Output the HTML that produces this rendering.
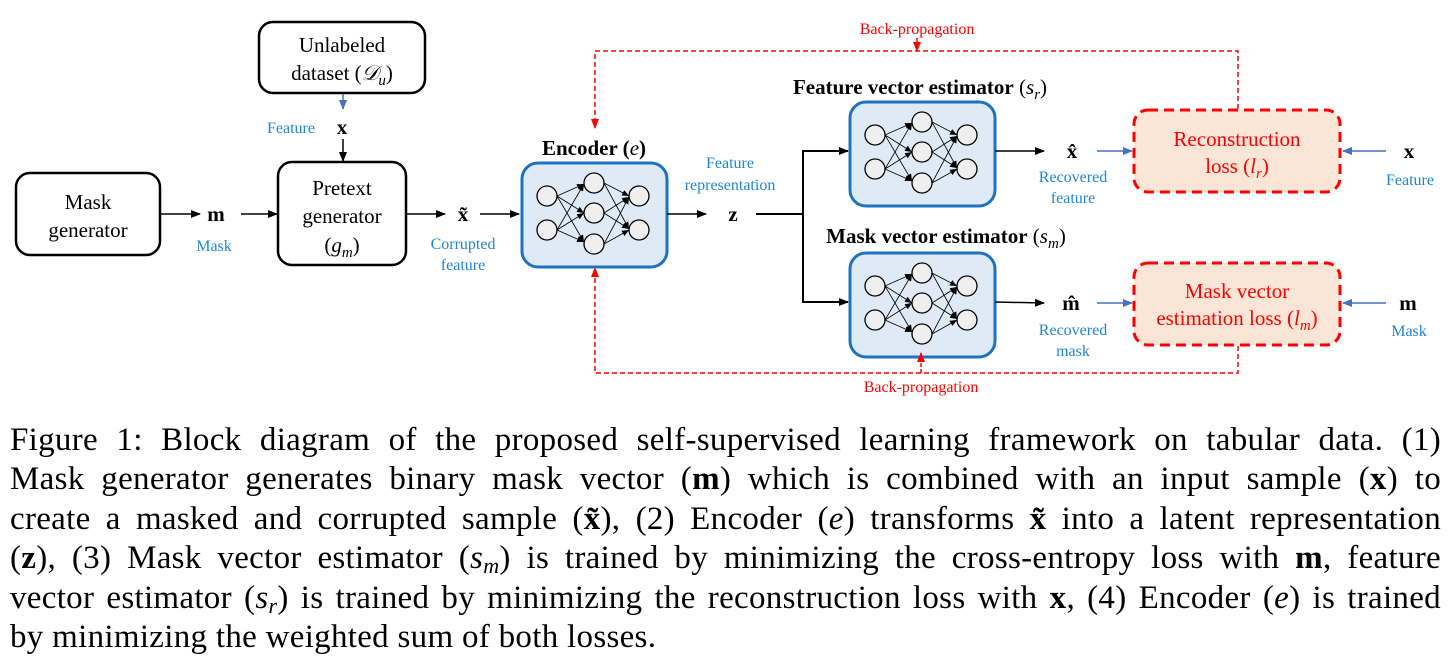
<!DOCTYPE html>
<html><head><meta charset="utf-8"><style>
body{margin:0;width:1455px;height:671px;background:#fff;overflow:hidden;position:relative;font-family:"Liberation Serif",serif}
svg{position:absolute;left:0;top:0}
.cap{position:absolute;left:10px;top:421px;width:1431px;font-size:33px;color:#000;font-family:"Liberation Serif",serif;letter-spacing:0.3px}
.cap div{height:39.4px;line-height:39.4px;white-space:nowrap;text-align:justify;text-align-last:justify}
.cap sub{font-size:22px;line-height:0;vertical-align:-5px}
</style></head><body>
<svg width="1455" height="420" viewBox="0 0 1455 420" font-family="Liberation Serif, serif">
<defs>
<marker id="ak" markerWidth="10" markerHeight="8" refX="9" refY="4" orient="auto" markerUnits="userSpaceOnUse"><path d="M0,0 L10,4 L0,8z" fill="#000"/></marker>
<marker id="ab" markerWidth="10" markerHeight="8" refX="9" refY="4" orient="auto" markerUnits="userSpaceOnUse"><path d="M0,0 L10,4 L0,8z" fill="#4472c4"/></marker>
<marker id="ar" markerWidth="10" markerHeight="8" refX="9" refY="4" orient="auto" markerUnits="userSpaceOnUse"><path d="M0,0 L10,4 L0,8z" fill="#f00"/></marker>
<marker id="as" markerWidth="7" markerHeight="6" refX="7" refY="3" orient="auto" markerUnits="userSpaceOnUse"><path d="M0,0 L7,3 L0,6z" fill="#000"/></marker>
<g id="nn">
<rect x="0" y="0" width="145" height="104" rx="16" fill="#deebf7" stroke="#1f72bd" stroke-width="3"/>
<g stroke="#000" stroke-width="0.8" marker-end="url(#as)">
<line x1="35" y1="33" x2="62" y2="21"/><line x1="35" y1="33" x2="62" y2="50"/><line x1="35" y1="33" x2="62" y2="79"/>
<line x1="35" y1="67" x2="62" y2="21"/><line x1="35" y1="67" x2="62" y2="50"/><line x1="35" y1="67" x2="62" y2="79"/>
<line x1="82" y1="20" x2="107" y2="33"/><line x1="82" y1="20" x2="107" y2="66"/>
<line x1="82" y1="50" x2="107" y2="34"/><line x1="82" y1="50" x2="107" y2="66"/>
<line x1="82" y1="81" x2="107" y2="34"/><line x1="82" y1="81" x2="107" y2="67"/>
</g>
<g fill="#efefef" stroke="#000" stroke-width="1.3">
<circle cx="25" cy="33" r="10"/><circle cx="25" cy="67" r="10"/>
<circle cx="72" cy="20" r="10"/><circle cx="72" cy="50" r="10"/><circle cx="72" cy="81" r="10"/>
<circle cx="117" cy="33" r="10"/><circle cx="117" cy="67" r="10"/>
</g>
</g>
</defs>
<rect x="16" y="173" width="144" height="82" rx="14" fill="#fff" stroke="#000" stroke-width="2.5"/>
<text x="88" y="209" font-size="21" text-anchor="middle">Mask</text>
<text x="88" y="237" font-size="21" text-anchor="middle">generator</text>
<rect x="259" y="22" width="166" height="71" rx="14" fill="#fff" stroke="#000" stroke-width="2.5"/>
<text x="342" y="52" font-size="21" text-anchor="middle">Unlabeled</text>
<text x="342" y="80" font-size="21" text-anchor="middle">dataset (<tspan font-style="italic">𝒟</tspan><tspan font-style="italic" font-size="15" dy="5">u</tspan><tspan dy="-5">)</tspan></text>
<rect x="278" y="162" width="128" height="103" rx="14" fill="#fff" stroke="#000" stroke-width="2.5"/>
<text x="342" y="195" font-size="21" text-anchor="middle">Pretext</text>
<text x="342" y="223" font-size="21" text-anchor="middle">generator</text>
<text x="342" y="252" font-size="21" text-anchor="middle">(<tspan font-style="italic">g</tspan><tspan font-style="italic" font-size="15" dy="5">m</tspan><tspan dy="-5">)</tspan></text>
<line x1="343" y1="94" x2="343" y2="109" stroke="#4472c4" stroke-width="1.5" marker-end="url(#ab)"/>
<text x="291" y="133" font-size="16" fill="#1f86d6" text-anchor="middle">Feature</text>
<text x="342" y="134" font-size="21" font-weight="bold" text-anchor="middle">x</text>
<line x1="343" y1="139" x2="343" y2="161" stroke="#000" stroke-width="1.5" marker-end="url(#ak)"/>
<line x1="160" y1="214" x2="200" y2="214" stroke="#000" stroke-width="1.5" marker-end="url(#ak)"/>
<text x="216" y="221" font-size="21" font-weight="bold" text-anchor="middle">m</text>
<text x="214" y="251" font-size="16" fill="#1f86d6" text-anchor="middle">Mask</text>
<line x1="241" y1="214" x2="277" y2="214" stroke="#000" stroke-width="1.5" marker-end="url(#ak)"/>
<line x1="406" y1="214" x2="445" y2="214" stroke="#000" stroke-width="1.5" marker-end="url(#ak)"/>
<text x="463" y="221" font-size="21" font-weight="bold" text-anchor="middle">x̃</text>
<text x="463" y="249" font-size="16" fill="#1f86d6" text-anchor="middle">Corrupted</text>
<text x="463" y="270" font-size="16" fill="#1f86d6" text-anchor="middle">feature</text>
<line x1="480" y1="214" x2="519" y2="214" stroke="#000" stroke-width="1.5" marker-end="url(#ak)"/>
<text x="594" y="155" font-size="21" font-weight="bold" text-anchor="middle">Encoder (<tspan font-style="italic" font-weight="normal">e</tspan>)</text>
<use href="#nn" x="522" y="163"/>
<line x1="667" y1="214" x2="706" y2="214" stroke="#000" stroke-width="1.5" marker-end="url(#ak)"/>
<text x="730" y="168" font-size="16" fill="#1f86d6" text-anchor="middle">Feature</text>
<text x="730" y="190" font-size="16" fill="#1f86d6" text-anchor="middle">representation</text>
<text x="733" y="221" font-size="21" font-weight="bold" text-anchor="middle">z</text>
<polyline points="756,214 803,214" fill="none" stroke="#000" stroke-width="2"/>
<polyline points="848,151 803,151 803,302 848,302" fill="none" stroke="#000" stroke-width="2"/>
<line x1="803" y1="151" x2="848" y2="151" stroke="#000" stroke-width="2" marker-end="url(#ak)"/>
<line x1="803" y1="302" x2="848" y2="302" stroke="#000" stroke-width="2" marker-end="url(#ak)"/>
<text x="920" y="94" font-size="21" text-anchor="middle"><tspan font-weight="bold">Feature vector estimator</tspan> (<tspan font-style="italic">s</tspan><tspan font-style="italic" font-size="15" dy="5">r</tspan><tspan dy="-5">)</tspan></text>
<use href="#nn" x="850" y="102"/>
<text x="946" y="243" font-size="21" text-anchor="middle"><tspan font-weight="bold">Mask vector estimator</tspan> (<tspan font-style="italic">s</tspan><tspan font-style="italic" font-size="15" dy="5">m</tspan><tspan dy="-5">)</tspan></text>
<use href="#nn" x="850" y="253"/>
<line x1="995" y1="151" x2="1044" y2="151" stroke="#000" stroke-width="1.5" marker-end="url(#ak)"/>
<line x1="995" y1="302" x2="1044" y2="303" stroke="#000" stroke-width="1.5" marker-end="url(#ak)"/>
<text x="1072" y="158" font-size="21" font-weight="bold" text-anchor="middle">x̂</text>
<text x="1073" y="182" font-size="16" fill="#1f86d6" text-anchor="middle">Recovered</text>
<text x="1073" y="203" font-size="16" fill="#1f86d6" text-anchor="middle">feature</text>
<text x="1071" y="310" font-size="21" font-weight="bold" text-anchor="middle">m̂</text>
<text x="1073" y="335" font-size="16" fill="#1f86d6" text-anchor="middle">Recovered</text>
<text x="1073" y="356" font-size="16" fill="#1f86d6" text-anchor="middle">mask</text>
<line x1="1097" y1="151" x2="1132" y2="151" stroke="#4472c4" stroke-width="1.5" marker-end="url(#ab)"/>
<line x1="1097" y1="303" x2="1132" y2="303" stroke="#4472c4" stroke-width="1.5" marker-end="url(#ab)"/>
<line x1="1386" y1="151" x2="1343" y2="151" stroke="#4472c4" stroke-width="1.5" marker-end="url(#ab)"/>
<line x1="1386" y1="303" x2="1343" y2="303" stroke="#4472c4" stroke-width="1.5" marker-end="url(#ab)"/>
<rect x="1134" y="110" width="206" height="82" rx="14" fill="#fbe5d6" stroke="#f00" stroke-width="3" stroke-dasharray="10,6"/>
<text x="1237" y="146" font-size="21" fill="#f00" text-anchor="middle">Reconstruction</text>
<text x="1237" y="173" font-size="21" fill="#f00" text-anchor="middle">loss (<tspan font-style="italic">l</tspan><tspan font-style="italic" font-size="15" dy="5">r</tspan><tspan dy="-5">)</tspan></text>
<rect x="1134" y="263" width="206" height="82" rx="14" fill="#fbe5d6" stroke="#f00" stroke-width="3" stroke-dasharray="10,6"/>
<text x="1237" y="298" font-size="21" fill="#f00" text-anchor="middle">Mask vector</text>
<text x="1237" y="325" font-size="21" fill="#f00" text-anchor="middle">estimation loss (<tspan font-style="italic">l</tspan><tspan font-style="italic" font-size="15" dy="5">m</tspan><tspan dy="-5">)</tspan></text>
<text x="1409" y="158" font-size="21" font-weight="bold" text-anchor="middle">x</text>
<text x="1410" y="185" font-size="16" fill="#1f86d6" text-anchor="middle">Feature</text>
<text x="1408" y="310" font-size="21" font-weight="bold" text-anchor="middle">m</text>
<text x="1409" y="336" font-size="16" fill="#1f86d6" text-anchor="middle">Mask</text>
<polyline points="1238,109 1238,51 595,51 595,128" fill="none" stroke="#f00" stroke-width="1.5" stroke-dasharray="5,3" marker-end="url(#ar)"/>
<line x1="917" y1="38" x2="917" y2="51" stroke="#f00" stroke-width="1.5" stroke-dasharray="4,2" marker-end="url(#ar)"/>
<text x="917" y="34" font-size="16" fill="#f00" text-anchor="middle">Back-propagation</text>
<polyline points="1238,346 1238,373 595,373 595,268" fill="none" stroke="#f00" stroke-width="1.5" stroke-dasharray="5,3" marker-end="url(#ar)"/>
<line x1="921" y1="373" x2="921" y2="353" stroke="#f00" stroke-width="1.5" stroke-dasharray="4,2" marker-end="url(#ar)"/>
<text x="921" y="392" font-size="16" fill="#f00" text-anchor="middle">Back-propagation</text>
</svg>
<div class="cap">
<div>Figure 1: Block diagram of the proposed self-supervised learning framework on tabular data. (1)</div>
<div>Mask generator generates binary mask vector (<b>m</b>) which is combined with an input sample (<b>x</b>) to</div>
<div>create a masked and corrupted sample (<b>x̃</b>), (2) Encoder (<i>e</i>) transforms <b>x̃</b> into a latent representation</div>
<div>(<b>z</b>), (3) Mask vector estimator (<i>s<sub>m</sub></i>) is trained by minimizing the cross-entropy loss with <b>m</b>, feature</div>
<div>vector estimator (<i>s<sub>r</sub></i>) is trained by minimizing the reconstruction loss with <b>x</b>, (4) Encoder (<i>e</i>) is trained</div>
<div style="text-align:left;text-align-last:left">by minimizing the weighted sum of both losses.</div>
</div>
</body></html>
